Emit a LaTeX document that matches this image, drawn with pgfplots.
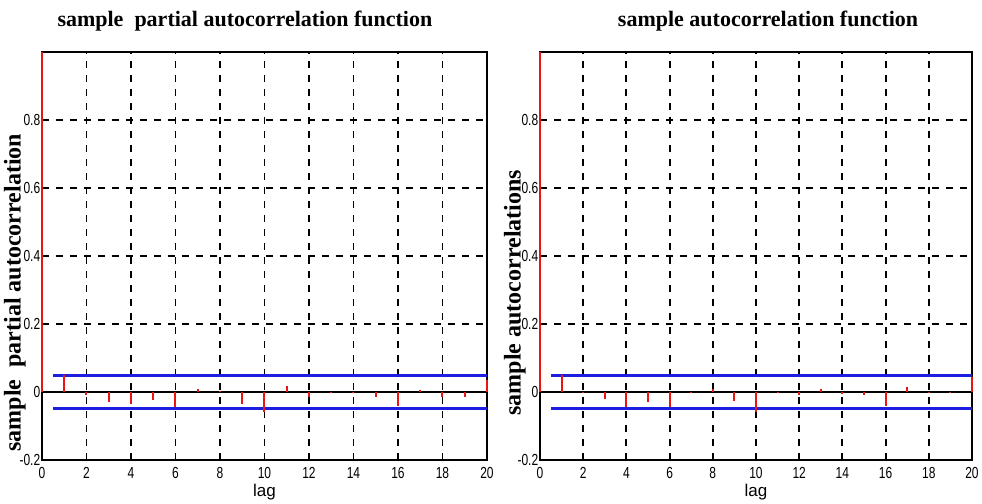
\documentclass[border=0pt]{standalone}
\usepackage{fontspec}
\setmainfont{Liberation Serif}
\newfontfamily\tickfont{Liberation Sans}
\usepackage{pgfplots}
\usepackage{pgfplotstable}
\pgfplotsset{compat=1.18}

\definecolor{acfred}{RGB}{235,20,20}
\definecolor{acfblue}{RGB}{30,30,225}

% lag, sample partial autocorrelation
\pgfplotstableread{
lag val
0 1
1 0.051
2 -0.008
3 -0.029
4 -0.034
5 -0.023
6 -0.044
7 0.009
8 0.002
9 -0.034
10 -0.059
11 0.017
12 -0.015
13 0.001
14 0.001
15 -0.015
16 -0.042
17 0.007
18 -0.015
19 -0.015
20 0.036
}\pacfdata

% lag, sample autocorrelation
\pgfplotstableread{
lag val
0 1
1 0.051
2 0.001
3 -0.021
4 -0.043
5 -0.028
6 -0.043
7 0.001
8 0.009
9 -0.027
10 -0.060
11 0.001
12 -0.008
13 0.009
14 -0.005
15 -0.009
16 -0.042
17 0.016
18 0.001
19 0.001
20 0.045
}\acfdata

\pgfplotsset{
  acfstyle/.style={
    scale only axis, height=204pt,
    xmin=0, xmax=20, ymin=-0.2, ymax=1,
    xtick={0,2,...,20}, ytick={-0.2,0,0.2,0.4,0.6,0.8},
    grid=major,
    grid style={black, line width=0.95pt, dash pattern=on 3.5pt off 3.5pt},
    major tick length=0pt,
    axis line style={black, line width=1.2pt},
    clip=false,
    /pgf/number format/assume math mode=true,
    tick label style={font=\tickfont\fontsize{8}{9}\selectfont, xscale=0.75},
    yticklabel style={inner xsep=1pt},
    title style={font=\fontsize{11}{12}\selectfont\bfseries, anchor=south, inner sep=0pt, yshift=4pt},
    xlabel={lag},
    xlabel style={font=\tickfont\fontsize{8.5}{9}\selectfont, at={(axis description cs:0.5,-0.078)}, anchor=center},
    ylabel style={font=\fontsize{12}{13}\selectfont\bfseries, anchor=center},
  }
}

\begin{document}
\begin{tikzpicture}
\useasboundingbox (0,0) rectangle (491pt,252pt);

\begin{axis}[acfstyle, at={(21pt,22pt)}, anchor=south west, width=222.5pt,
  title={sample\ \ partial autocorrelation function},
  title style={at={(0.456,1)}},
  ylabel={sample\ \ partial autocorrelation},
  ylabel style={at={(axis description cs:-0.061,0.41)}},
]
\addplot[acfblue, line width=1.4pt] coordinates {(0.5,0.048) (20,0.048)};
\addplot[acfblue, line width=1.4pt] coordinates {(0.5,-0.048) (20,-0.048)};
\addplot[black, line width=1.3pt] coordinates {(0,0) (20,0)};
\addplot[ycomb, draw=acfred, line width=1pt, no marks] table[x=lag, y=val] {\pacfdata};
\end{axis}

\begin{axis}[acfstyle, at={(270pt,22pt)}, anchor=south west, width=216pt,
  title={sample autocorrelation function},
  title style={at={(0.528,1)}},
  ylabel={sample autocorrelations},
  ylabel style={at={(axis description cs:-0.058,0.41)}},
]
\addplot[acfblue, line width=1.4pt] coordinates {(0.5,0.048) (20,0.048)};
\addplot[acfblue, line width=1.4pt] coordinates {(0.5,-0.048) (20,-0.048)};
\addplot[black, line width=1.3pt] coordinates {(0,0) (20,0)};
\addplot[ycomb, draw=acfred, line width=1pt, no marks] table[x=lag, y=val] {\acfdata};
\end{axis}
\end{tikzpicture}
\end{document}
